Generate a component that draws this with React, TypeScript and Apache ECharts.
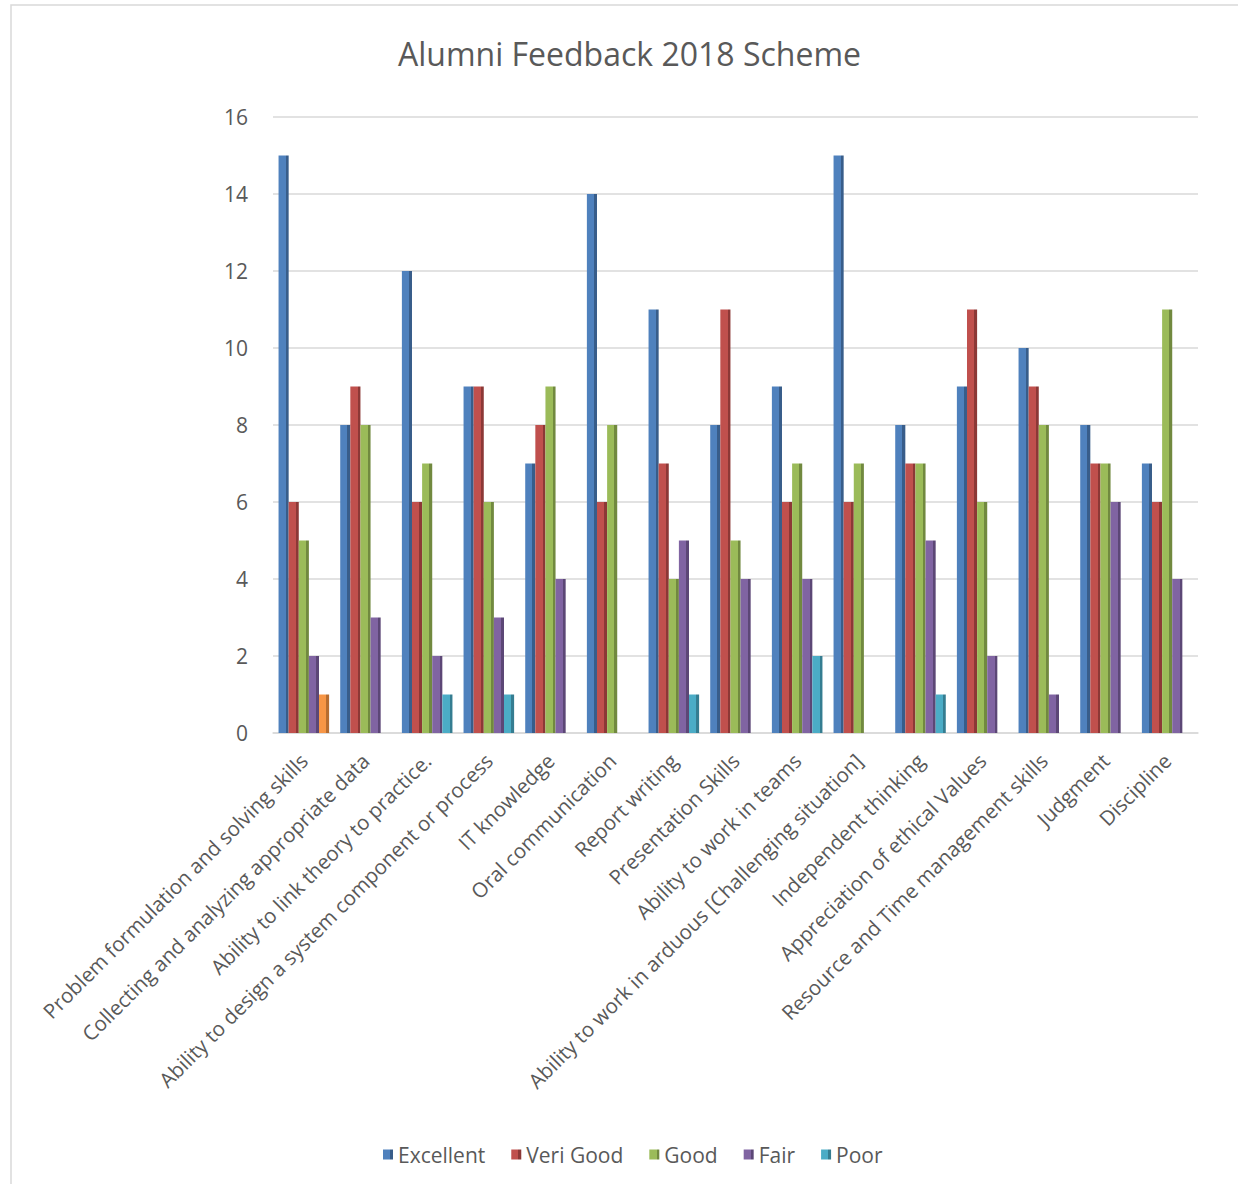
import React, { useEffect, useRef } from "react";
import * as echarts from "echarts";

const categories = [
  "Problem formulation and solving skills",
  "Collecting and analyzing appropriate data",
  "Ability to link theory to practice.",
  "Ability to design a system component or process",
  "IT knowledge",
  "Oral communication",
  "Report writing",
  "Presentation Skills",
  "Ability to work in teams",
  "Ability to work in arduous [Challenging situation]",
  "Independent thinking",
  "Appreciation of ethical Values",
  "Resource and Time management skills",
  "Judgment",
  "Discipline",
];

const excellent = [15, 8, 12, 9, 7, 14, 11, 8, 9, 15, 8, 9, 10, 8, 7];
const veriGood = [6, 9, 6, 9, 8, 6, 7, 11, 6, 6, 7, 11, 9, 7, 6];
const good = [5, 8, 7, 6, 9, 8, 4, 5, 7, 7, 7, 6, 8, 7, 11];
const fair = [2, 3, 2, 3, 4, 0, 5, 4, 4, 0, 5, 2, 1, 6, 4];
const poor = [1, 0, 1, 1, 0, 0, 1, 0, 2, 0, 1, 0, 0, 0, 0];

const seriesNames = ["Excellent", "Veri Good", "Good", "Fair", "Poor"];
const yTicks = [0, 2, 4, 6, 8, 10, 12, 14, 16];

const COLORS = ["#4F81BD", "#C0504D", "#9BBB59", "#8064A2", "#4BACC6"];
const DARK = ["#385D8A", "#8C3836", "#71893F", "#5C4776", "#357D91"];
const ORANGE = "#F79646";
const ORANGE_DARK = "#B66D31";
const FONT = "'Open Sans', 'Liberation Sans', sans-serif";
const TEXT = "#595959";

function grad(c: string, d: string) {
  return new echarts.graphic.LinearGradient(0, 0, 1, 0, [
    { offset: 0, color: c },
    { offset: 0.72, color: c },
    { offset: 0.72, color: d },
    { offset: 1, color: d },
  ]);
}

export default function App() {
  const ref = useRef<HTMLDivElement>(null);
  useEffect(() => {
    if (!ref.current) return;
    const chart = echarts.init(ref.current, undefined, { renderer: "svg" });
    const all = [excellent, veriGood, good, fair, poor];
    const series = all.map((arr, si) => ({
      name: seriesNames[si],
      type: "bar",
      barGap: "0%",
      barCategoryGap: "18%",
      itemStyle: { color: grad(COLORS[si], DARK[si]) },
      data: arr.map((v, i) =>
        si === 4 && i === 0
          ? { value: v, itemStyle: { color: grad(ORANGE, ORANGE_DARK) } }
          : v
      ),
    }));
    chart.setOption({
      animation: false,
      backgroundColor: "#ffffff",
      color: COLORS,
      title: {
        text: "Alumni Feedback 2018 Scheme",
        left: 393,
        top: 32,
        textStyle: { fontFamily: FONT, fontSize: 32, fontWeight: "normal", color: TEXT },
      },
      legend: {
        bottom: 14,
        left: 378,
        itemWidth: 10,
        itemHeight: 10,
        itemGap: 26,
        icon: "rect",
        textStyle: { fontFamily: FONT, fontSize: 21, color: TEXT },
        data: seriesNames,
      },
      graphic: [
        {
          type: "rect",
          shape: { x: 11, y: 5, width: 1260, height: 1200 },
          style: { fill: "none", stroke: "#d9d9d9", lineWidth: 1.5 },
          silent: true,
        },
      ],
      grid: { left: 273, right: 40, top: 117, bottom: 451, containLabel: false },
      xAxis: {
        type: "category",
        data: categories,
        axisLine: { show: true, lineStyle: { color: "#d9d9d9", width: 1.5 } },
        axisTick: { show: false },
        axisLabel: {
          interval: 0,
          rotate: 45,
          margin: 24,
          fontFamily: FONT,
          fontSize: 20.5,
          color: TEXT,
        },
      },
      yAxis: {
        type: "value",
        min: yTicks[0],
        max: yTicks[yTicks.length - 1],
        interval: 2,
        axisLine: { show: false },
        axisTick: { show: false },
        splitLine: { lineStyle: { color: "#d9d9d9", width: 1.5 } },
        axisLabel: { fontFamily: FONT, fontSize: 21, color: TEXT, margin: 25 },
      },
      series,
    });
    return () => chart.dispose();
  }, []);
  return (
    <div
      ref={ref}
      style={{ position: "absolute", left: 0, top: 0, width: 1238, height: 1184, background: "#fff" }}
    />
  );
}
